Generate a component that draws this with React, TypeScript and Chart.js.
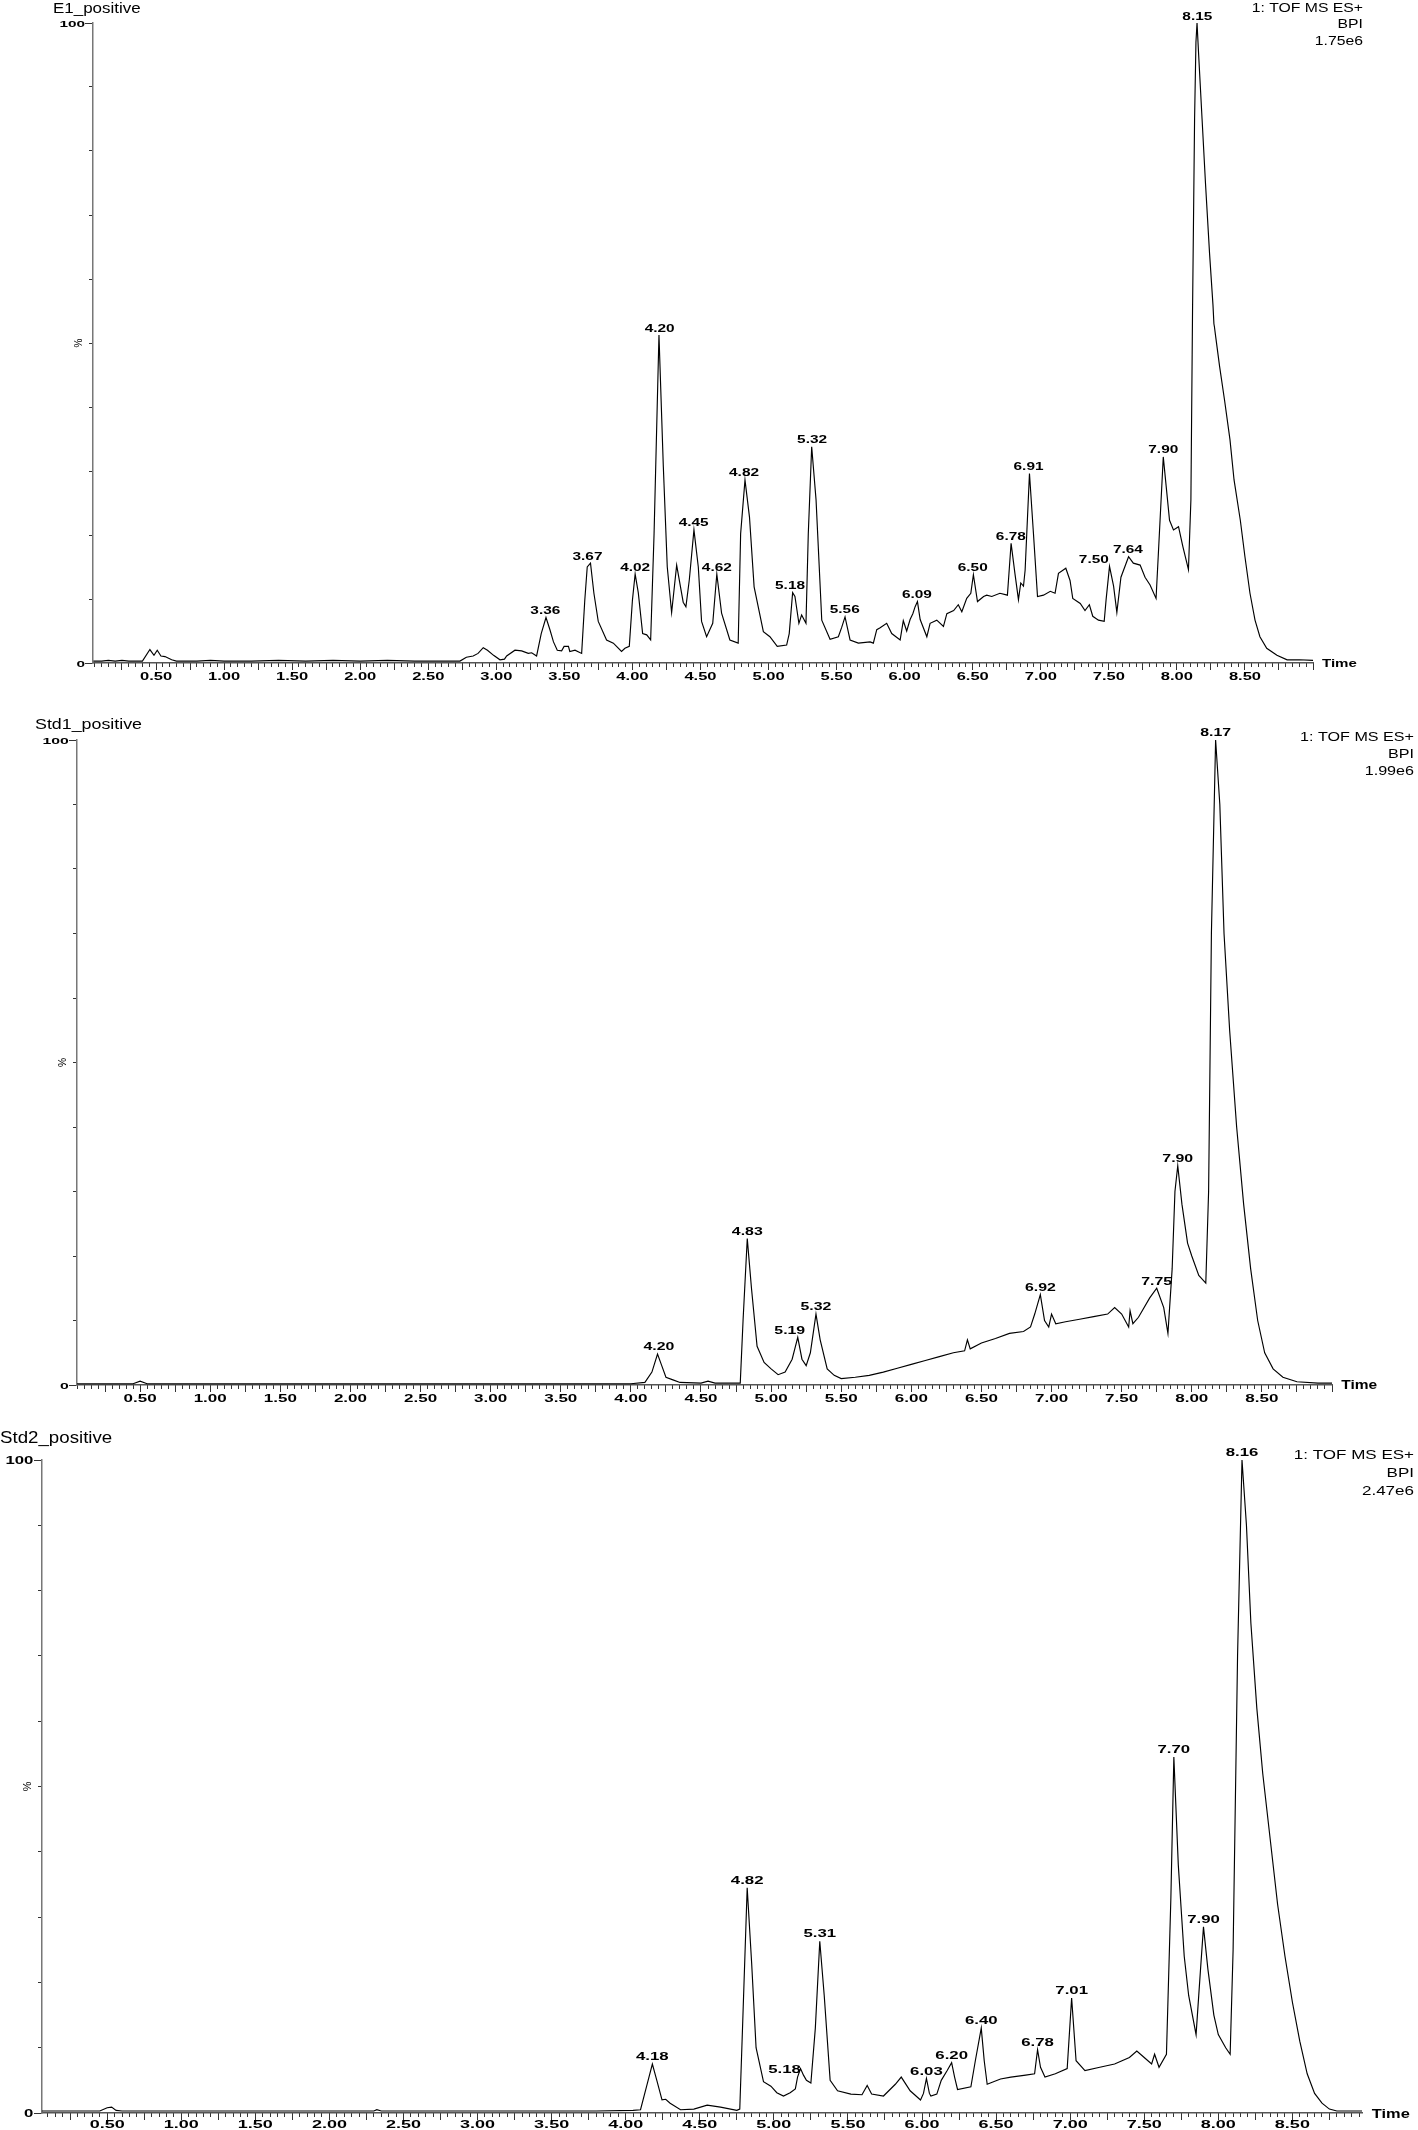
import React, { useEffect, useRef } from 'react';
import { Chart, registerables } from 'chart.js';

Chart.register(...registerables);

const FONT = '"Liberation Sans", Arial, Helvetica, sans-serif';

// ---------- tick labels ----------
const xTickLabels = ['0.50', '1.00', '1.50', '2.00', '2.50', '3.00', '3.50', '4.00', '4.50', '5.00', '5.50', '6.00', '6.50', '7.00', '7.50', '8.00', '8.50'];
const yTickLabels = ['0', '100'];
const headerLines1 = ['1: TOF MS ES+', 'BPI', '1.75e6'];
const headerLines2 = ['1: TOF MS ES+', 'BPI', '1.99e6'];
const headerLines3 = ['1: TOF MS ES+', 'BPI', '2.47e6'];

// ---------- E1_positive ----------
const e1Times = [0.04, 0.10, 0.15, 0.20, 0.25, 0.30, 0.35, 0.40, 0.455, 0.485, 0.509, 0.536, 0.566, 0.615, 0.65, 0.80, 0.90, 1.00, 1.20, 1.40, 1.60, 1.80, 2.00, 2.20, 2.40, 2.60, 2.733, 2.78, 2.83, 2.866, 2.904, 2.935, 2.98, 3.027, 3.06, 3.076, 3.137, 3.186, 3.235, 3.26, 3.296, 3.33, 3.365, 3.394, 3.42, 3.448, 3.48, 3.498, 3.53, 3.54, 3.578, 3.627, 3.65, 3.668, 3.692, 3.717, 3.749, 3.81, 3.86, 3.92, 3.945, 3.977, 4.0, 4.02, 4.043, 4.075, 4.105, 4.134, 4.159, 4.195, 4.227, 4.256, 4.288, 4.325, 4.373, 4.393, 4.418, 4.452, 4.484, 4.508, 4.545, 4.59, 4.62, 4.655, 4.716, 4.777, 4.795, 4.827, 4.86, 4.894, 4.962, 5.01, 5.064, 5.133, 5.152, 5.177, 5.194, 5.223, 5.243, 5.275, 5.292, 5.317, 5.349, 5.391, 5.452, 5.513, 5.538, 5.562, 5.599, 5.66, 5.746, 5.77, 5.795, 5.82, 5.868, 5.905, 5.967, 5.99, 6.015, 6.04, 6.06, 6.077, 6.094, 6.114, 6.163, 6.187, 6.236, 6.285, 6.31, 6.36, 6.394, 6.42, 6.456, 6.486, 6.505, 6.535, 6.58, 6.603, 6.64, 6.70, 6.755, 6.782, 6.81, 6.836, 6.853, 6.873, 6.885, 6.917, 6.946, 6.976, 7.02, 7.07, 7.105, 7.13, 7.184, 7.215, 7.235, 7.29, 7.325, 7.357, 7.382, 7.424, 7.466, 7.48, 7.505, 7.535, 7.559, 7.589, 7.645, 7.68, 7.73, 7.766, 7.803, 7.847, 7.864, 7.90, 7.946, 7.975, 8.012, 8.044, 8.085, 8.103, 8.115, 8.13, 8.14, 8.148, 8.16, 8.185, 8.21, 8.24, 8.265, 8.272, 8.276, 8.285, 8.314, 8.35, 8.39, 8.42, 8.466, 8.5, 8.537, 8.574, 8.61, 8.66, 8.735, 8.81, 8.9, 9.0];
const e1Values = [0.3, 0.3, 0.4, 0.3, 0.4, 0.3, 0.3, 0.3, 2.1, 1.2, 2.0, 1.1, 1.0, 0.5, 0.3, 0.3, 0.4, 0.3, 0.3, 0.4, 0.3, 0.4, 0.3, 0.4, 0.3, 0.3, 0.3, 0.9, 1.1, 1.5, 2.4, 2.0, 1.2, 0.5, 0.6, 1.1, 2.0, 1.9, 1.5, 1.6, 1.1, 4.6, 7.1, 5.2, 3.3, 2.0, 1.9, 2.6, 2.6, 1.8, 2.0, 1.5, 9.8, 15.0, 15.6, 10.9, 6.5, 3.6, 3.1, 1.8, 2.3, 2.6, 9.8, 13.9, 11.0, 4.6, 4.4, 3.6, 20.2, 51.25, 30.7, 15.0, 7.9, 15.3, 9.5, 8.8, 13.0, 20.8, 15.0, 6.5, 4.1, 6.2, 13.9, 7.8, 3.6, 3.1, 20.2, 28.6, 22.8, 11.9, 4.9, 4.1, 2.6, 2.8, 4.6, 11.0, 10.4, 6.2, 7.5, 6.2, 20.2, 33.8, 25.5, 6.7, 3.7, 4.1, 5.6, 7.2, 3.6, 3.1, 3.3, 3.1, 5.2, 5.5, 6.2, 4.6, 3.6, 6.6, 5.0, 6.8, 7.7, 8.8, 9.6, 6.8, 4.1, 6.2, 6.7, 5.7, 7.7, 8.2, 9.1, 8.0, 10.1, 10.9, 13.8, 9.6, 10.4, 10.6, 10.4, 10.9, 10.6, 18.7, 14.0, 9.9, 12.5, 12.0, 14.5, 29.6, 20.3, 10.4, 10.6, 11.2, 10.9, 14.0, 14.8, 12.9, 10.1, 9.3, 8.2, 9.1, 7.3, 6.7, 6.5, 9.9, 15.1, 12.0, 7.9, 13.4, 16.6, 15.6, 15.3, 13.4, 12.2, 10.1, 17.1, 32.2, 22.3, 20.8, 21.3, 18.2, 14.6, 25.5, 55, 85, 97, 100, 95, 85, 75, 64, 56, 53, 52.5, 51, 46.3, 41.1, 34.9, 28.6, 22.3, 16.6, 10.9, 6.7, 4.1, 2.3, 1.2, 0.5, 0.5, 0.4];
const e1PeakLabels = ['3.36', '3.67', '4.02', '4.20', '4.45', '4.62', '4.82', '5.18', '5.32', '5.56', '6.09', '6.50', '6.78', '6.91', '7.50', '7.64', '7.90', '8.15'];
const e1PeakHeights = [7.1, 15.6, 13.9, 51.25, 20.8, 13.9, 28.6, 11.0, 33.8, 7.2, 9.6, 13.8, 18.7, 29.6, 15.1, 16.6, 32.2, 100];

// ---------- Std1_positive ----------
const s1Times = [0.05, 0.2, 0.45, 0.5, 0.55, 1.0, 1.5, 2.0, 2.5, 3.0, 3.5, 4.0, 4.1, 4.15, 4.19, 4.22, 4.25, 4.3, 4.35, 4.5, 4.55, 4.6, 4.78, 4.8, 4.83, 4.86, 4.9, 4.95, 5.0, 5.05, 5.1, 5.15, 5.19, 5.22, 5.25, 5.28, 5.32, 5.35, 5.4, 5.45, 5.5, 5.6, 5.7, 5.8, 5.9, 6.0, 6.1, 6.2, 6.3, 6.38, 6.4, 6.42, 6.5, 6.6, 6.7, 6.8, 6.85, 6.88, 6.92, 6.95, 6.98, 7.0, 7.03, 7.1, 7.2, 7.3, 7.4, 7.45, 7.5, 7.55, 7.56, 7.58, 7.62, 7.7, 7.75, 7.8, 7.83, 7.86, 7.88, 7.9, 7.93, 7.97, 8.0, 8.05, 8.1, 8.12, 8.14, 8.17, 8.2, 8.23, 8.27, 8.32, 8.37, 8.42, 8.47, 8.52, 8.58, 8.65, 8.75, 8.9, 9.0];
const s1Values = [0.2, 0.2, 0.2, 0.6, 0.2, 0.2, 0.2, 0.2, 0.2, 0.2, 0.2, 0.2, 0.4, 2.0, 4.8, 3.0, 1.2, 0.8, 0.4, 0.3, 0.6, 0.3, 0.3, 10, 22.7, 15, 6, 3.5, 2.5, 1.6, 2.0, 4.0, 7.4, 4.0, 3.0, 5.0, 11, 7, 2.5, 1.5, 1.0, 1.2, 1.5, 2.0, 2.6, 3.2, 3.8, 4.4, 5.0, 5.3, 7.0, 5.6, 6.5, 7.2, 8.0, 8.3, 9.0, 11, 14, 10, 9, 11, 9.5, 9.8, 10.2, 10.6, 11, 12, 11, 9, 11.5, 9.5, 10.5, 13.5, 15, 12, 8, 18, 30, 34, 28, 22, 20, 17, 15.8, 30, 70, 100, 90, 70, 55, 40, 28, 18, 10, 5, 2.5, 1.2, 0.5, 0.3, 0.3];
const s1PeakLabels = ['4.20', '4.83', '5.19', '5.32', '6.92', '7.75', '7.90', '8.17'];
const s1PeakHeights = [4.8, 22.7, 7.4, 11, 14, 15, 34, 100];

// ---------- Std2_positive ----------
const s2Times = [0.06, 0.3, 0.45, 0.5, 0.53, 0.56, 0.6, 1.0, 1.5, 2.0, 2.3, 2.32, 2.35, 2.8, 3.3, 3.8, 4.05, 4.1, 4.14, 4.18, 4.21, 4.245, 4.27, 4.3, 4.37, 4.46, 4.55, 4.64, 4.75, 4.77, 4.79, 4.82, 4.85, 4.88, 4.93, 4.98, 5.02, 5.065, 5.11, 5.145, 5.16, 5.18, 5.2, 5.22, 5.25, 5.28, 5.31, 5.34, 5.38, 5.43, 5.52, 5.595, 5.63, 5.66, 5.74, 5.82, 5.86, 5.92, 5.99, 6.01, 6.03, 6.05, 6.06, 6.1, 6.13, 6.17, 6.2, 6.22, 6.24, 6.33, 6.36, 6.4, 6.42, 6.44, 6.53, 6.6, 6.7, 6.76, 6.78, 6.8, 6.83, 6.9, 6.98, 7.01, 7.04, 7.1, 7.2, 7.3, 7.4, 7.45, 7.5, 7.55, 7.57, 7.6, 7.65, 7.68, 7.7, 7.73, 7.77, 7.8, 7.85, 7.88, 7.9, 7.93, 7.97, 8.0, 8.05, 8.08, 8.1, 8.13, 8.16, 8.19, 8.22, 8.26, 8.3, 8.35, 8.4, 8.45, 8.5, 8.55, 8.6, 8.65, 8.7, 8.75, 8.8, 8.97];
const s2Values = [0.3, 0.3, 0.3, 0.8, 0.9, 0.4, 0.3, 0.3, 0.3, 0.3, 0.3, 0.5, 0.3, 0.3, 0.3, 0.3, 0.4, 0.5, 4, 7.5, 5, 2.0, 2.1, 1.5, 0.5, 0.6, 1.2, 0.9, 0.4, 0.6, 14, 34.5, 23, 10, 4.8, 4.1, 3.1, 2.6, 3.1, 3.7, 5.5, 6.8, 5.8, 5.0, 4.6, 13, 26.3, 18, 5, 3.4, 2.9, 2.8, 4.2, 2.9, 2.6, 4.4, 5.5, 3.4, 2.0, 3, 5.3, 3, 2.6, 2.9, 5, 6.5, 7.7, 5.5, 3.6, 4.0, 8, 13, 8, 4.4, 5.2, 5.5, 5.8, 6, 9.7, 7, 5.5, 6, 6.8, 17.6, 8, 6.5, 7, 7.5, 8.5, 9.5, 8.5, 7.5, 9, 7, 9, 33, 54.5, 38, 24, 18, 12, 22, 28.5, 22, 15, 12, 10, 9, 25, 70, 100, 90, 75, 62, 52, 42, 32, 24, 17, 11, 6, 3, 1.5, 0.6, 0.3, 0.3];
const s2PeakLabels = ['4.18', '4.82', '5.18', '5.31', '6.03', '6.20', '6.40', '6.78', '7.01', '7.70', '7.90', '8.16'];
const s2PeakHeights = [7.5, 34.5, 6.8, 26.3, 5.3, 7.7, 13, 9.7, 17.6, 54.5, 28.5, 100];

// ---------- panel styling (positions in px) ----------
const W = 1418;
const panelSpecs = [
  {
    key: 'e1', top: 0, height: 690, left: 93, right: 1313, plotTop: 23, plotBottom: 663, xMin: 0.037, xMax: 9.0,
    times: e1Times, values: e1Values, peakLabels: e1PeakLabels, peakHeights: e1PeakHeights,
    title: 'E1_positive', titleX: 53, titleY: 12.7, titleSize: 15, titleSx: 1.13,
    header: headerLines1, headerX: 1363, headerY: 11.7, headerGap: 16.7, headerSize: 12.5, headerSx: 1.26,
    k: 1.0, pctX: 79, xLabelDy: 17, peakDx: { '5.18': -3, '7.50': -15 }, peakDy: {},
  },
  {
    key: 's1', top: 690, height: 730, left: 77, right: 1332, plotTop: 50, plotBottom: 695, xMin: 0.05, xMax: 9.0,
    times: s1Times, values: s1Values, peakLabels: s1PeakLabels, peakHeights: s1PeakHeights,
    title: 'Std1_positive', titleX: 35, titleY: 39, titleSize: 15.5, titleSx: 1.15,
    header: headerLines2, headerX: 1414, headerY: 51, headerGap: 17, headerSize: 12.8, headerSx: 1.26,
    k: 1.03, pctX: 63, xLabelDy: 17, peakDx: { '5.19': -8 }, peakDy: {},
  },
  {
    key: 's2', top: 1420, height: 710, left: 42, right: 1362, plotTop: 40, plotBottom: 693, xMin: 0.06, xMax: 8.97,
    times: s2Times, values: s2Values, peakLabels: s2PeakLabels, peakHeights: s2PeakHeights,
    title: 'Std2_positive', titleX: 0, titleY: 23, titleSize: 17, titleSx: 1.1,
    header: headerLines3, headerX: 1414, headerY: 39, headerGap: 18, headerSize: 13.5, headerSx: 1.26,
    k: 1.09, pctX: 28, xLabelDy: 15, peakDx: { '5.18': -16 }, peakDy: { '5.18': 8 },
  },
];

function drawStretched(ctx: CanvasRenderingContext2D, text: string, x: number, y: number, size: number, bold: boolean, sx: number, align: string) {
  ctx.save();
  ctx.font = `${bold ? 'bold ' : ''}${size}px ${FONT}`;
  ctx.textAlign = 'left';
  ctx.textBaseline = 'alphabetic';
  const w = ctx.measureText(text).width * sx;
  const left = align === 'center' ? x - w / 2 : align === 'right' ? x - w : x;
  ctx.translate(left, y);
  ctx.scale(sx, 1);
  ctx.fillText(text, 0, 0);
  ctx.restore();
}

const chromPlugin = {
  id: 'chrom',
  afterDraw(chart: any, _args: any, o: any) {
    const ctx: CanvasRenderingContext2D = chart.ctx;
    const xs = chart.scales.x;
    const ys = chart.scales.y;
    const area = chart.chartArea;
    const k = o.k;
    ctx.save();
    ctx.fillStyle = '#000';
    drawStretched(ctx, o.title, o.titleX, o.titleY, o.titleSize, false, o.titleSx, 'left');
    o.header.forEach((line: string, i: number) => {
      drawStretched(ctx, line, o.headerX, o.headerY + i * o.headerGap, o.headerSize, false, o.headerSx, 'right');
    });
    const tickSize = 10.2 * k;
    xTickLabels.forEach((l) => {
      const px = xs.getPixelForValue(parseFloat(l));
      drawStretched(ctx, l, px, area.bottom + o.xLabelDy, tickSize, true, 1.62, 'center');
    });
    yTickLabels.forEach((l) => {
      const py = ys.getPixelForValue(parseFloat(l));
      drawStretched(ctx, l, area.left - 8 * k, py + 3.5 * k, 9.6 * k, true, 1.6, 'right');
    });
    drawStretched(ctx, 'Time', area.right + 9 * k, area.bottom + 4.2 * k, 11.6 * k, true, 1.3, 'left');
    ctx.save();
    ctx.translate(o.pctX, (area.top + area.bottom) / 2);
    ctx.rotate(-Math.PI / 2);
    drawStretched(ctx, '%', 0, 3, 10 * k, false, 1.0, 'center');
    ctx.restore();
    o.peakLabels.forEach((l: string, i: number) => {
      const px = xs.getPixelForValue(parseFloat(l));
      const py = ys.getPixelForValue(o.peakHeights[i]);
      const dx = (o.peakDx && o.peakDx[l]) || 0;
      const dy = (o.peakDy && o.peakDy[l]) || 0;
      drawStretched(ctx, l, px + dx, py - 3.5 * k + dy, 10.7 * k, true, 1.44, 'center');
    });
    ctx.restore();
  },
};

function Panel({ spec }: { spec: any }) {
  const ref = useRef<HTMLCanvasElement | null>(null);
  useEffect(() => {
    if (!ref.current) return;
    const s = spec;
    const H = s.height;
    const data = s.times.map((t: number, i: number) => ({ x: t, y: s.values[i] }));
    const chart = new Chart(ref.current, {
      type: 'line',
      data: {
        datasets: [{
          data, borderColor: '#000', borderWidth: 1.15, pointRadius: 0, tension: 0, fill: false,
          xAxisID: 'x', yAxisID: 'y',
        }],
      },
      options: {
        animation: false, responsive: false, maintainAspectRatio: false, devicePixelRatio: 1,
        events: [],
        layout: { padding: { left: 0, right: W - s.right, top: s.plotTop, bottom: 0 } },
        plugins: {
          legend: { display: false }, tooltip: { enabled: false }, title: { display: false },
          chrom: {
            k: s.k, title: s.title, titleX: s.titleX, titleY: s.titleY, titleSize: s.titleSize, titleSx: s.titleSx,
            header: s.header, headerX: s.headerX, headerY: s.headerY, headerGap: s.headerGap, headerSize: s.headerSize, headerSx: s.headerSx,
            pctX: s.pctX, xLabelDy: s.xLabelDy, peakLabels: s.peakLabels, peakHeights: s.peakHeights, peakDx: s.peakDx, peakDy: s.peakDy,
          },
        } as any,
        scales: {
          xMinor: {
            type: 'linear', position: 'bottom', weight: 0, min: s.xMin, max: s.xMax,
            ticks: { display: false, stepSize: 0.05, includeBounds: false },
            grid: { drawOnChartArea: false, drawTicks: true, tickLength: 4, tickColor: '#333', tickWidth: 1 },
            border: { display: false },
            afterFit: (sc: any) => { sc.height = 0; },
          },
          x: {
            type: 'linear', position: 'bottom', weight: 1, min: s.xMin, max: s.xMax,
            ticks: { display: false, stepSize: 0.25, includeBounds: false },
            grid: { drawOnChartArea: false, drawTicks: true, tickLength: 7, tickColor: '#333', tickWidth: 1 },
            border: { display: true, color: '#555', width: 1.5 },
            afterFit: (sc: any) => { sc.height = H - s.plotBottom; },
          },
          yMinor: {
            type: 'linear', position: 'left', weight: 0, min: 0, max: 100,
            ticks: { display: false, stepSize: 10, includeBounds: false },
            grid: { drawOnChartArea: false, drawTicks: true, tickLength: 4, tickColor: '#333', tickWidth: 1 },
            border: { display: false },
            afterFit: (sc: any) => { sc.width = 0; },
          },
          y: {
            type: 'linear', position: 'left', weight: 1, min: 0, max: 100,
            ticks: { display: false, stepSize: 100, includeBounds: false },
            grid: { drawOnChartArea: false, drawTicks: true, tickLength: 8, tickColor: '#333', tickWidth: 1 },
            border: { display: true, color: '#777', width: 1.5 },
            afterFit: (sc: any) => { sc.width = s.left; },
          },
        } as any,
      },
      plugins: [chromPlugin],
    } as any);
    return () => chart.destroy();
  }, [spec]);
  return (
    <canvas
      ref={ref}
      width={W}
      height={spec.height}
      style={{ position: 'absolute', left: 0, top: spec.top, width: W, height: spec.height }}
    />
  );
}

export default function App() {
  return (
    <div style={{ position: 'absolute', left: 0, top: 0, width: W, height: 2130, background: '#fff', overflow: 'hidden' }}>
      {panelSpecs.map((p) => <Panel key={p.key} spec={p} />)}
    </div>
  );
}
